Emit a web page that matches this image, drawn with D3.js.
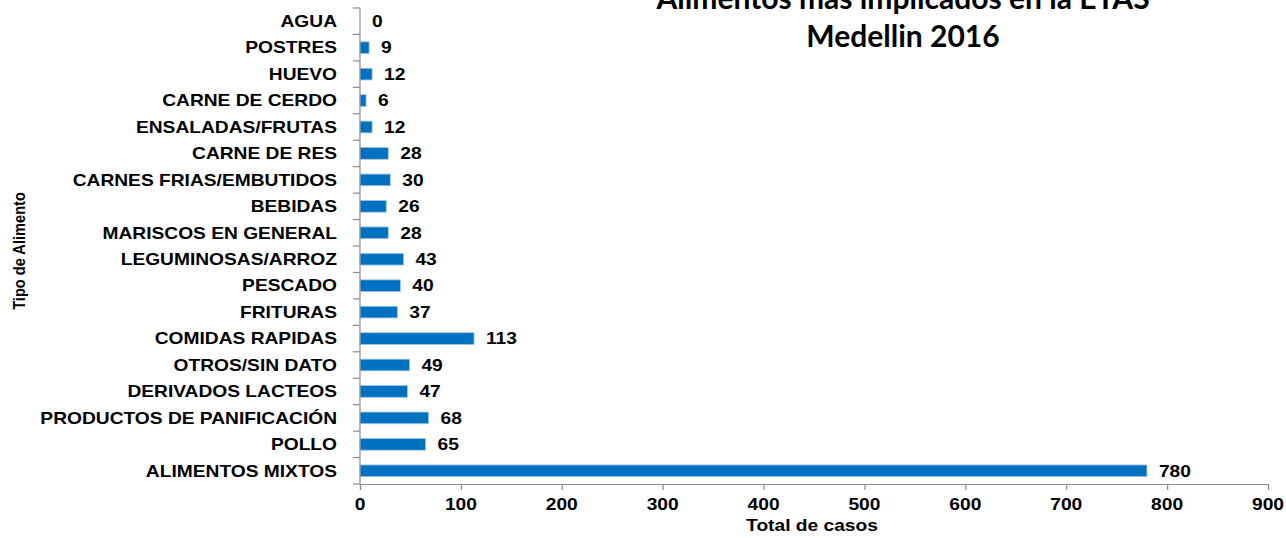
<!DOCTYPE html>
<html lang="es">
<head>
<meta charset="UTF-8">
<title>Alimentos ETAS</title>
<script src="https://d3js.org/d3.v7.min.js"></script>
<style>
  body { margin: 0; background: #fff; }
</style>
</head>
<body>
<script>
    // data, top to bottom as shown
    categories = ["AGUA", "POSTRES", "HUEVO", "CARNE DE CERDO", "ENSALADAS/FRUTAS",
        "CARNE DE RES", "CARNES FRIAS/EMBUTIDOS", "BEBIDAS", "MARISCOS EN GENERAL",
        "LEGUMINOSAS/ARROZ", "PESCADO", "FRITURAS", "COMIDAS RAPIDAS", "OTROS/SIN DATO",
        "DERIVADOS LACTEOS", "PRODUCTOS DE PANIFICACIÓN", "POLLO", "ALIMENTOS MIXTOS"]
    casos = [0, 9, 12, 6, 12, 28, 30, 26, 28, 43, 40, 37, 113, 49, 47, 68, 65, 780]
    xTicks = [0, 100, 200, 300, 400, 500, 600, 700, 800, 900]
    titleLines = ["Alimentos más  implicados en la ETAS", "Medellin 2016"]

    data = categories.map((c, i) => ({name: c, value: casos[i]}))

    w = 1286
    h = 538
    margin = {top: 8, right: 18, bottom: 54, left: 360}
    width = w - margin.left - margin.right
    height = h - margin.top - margin.bottom

    root = d3.select("body").append("svg")
        .attr("width", w)
        .attr("height", h)

    svg = root.append("g")
        .attr("transform", "translate(" + margin.left + "," + margin.top + ")")

    x = d3.scaleLinear().domain([0, 900]).range([0, width])
    y = d3.scaleBand().domain(categories).range([0, height]).paddingInner(0.56).paddingOuter(0.28)

    axisColor = "#8c8c8c"
    bold = "'Liberation Sans', Arial, sans-serif"
    sx = 1.2   // the original text is stretched sideways

    // bold, wide text placed at (px, py)
    function wideText(sel, px, py) {
        sel.attr("transform", (d, i) => "translate(" + px(d, i) + "," + py(d, i) + ") scale(" + sx + ",1)")
            .style("font-family", bold)
            .style("font-weight", "bold")
            .style("font-size", "16px")
    }

    // bars
    svg.selectAll("rect.bar")
        .data(data)
        .enter().append("rect")
        .attr("class", "bar")
        .attr("x", 0)
        .attr("y", (d) => y(d.name))
        .attr("width", (d) => x(d.value))
        .attr("height", y.bandwidth())
        .attr("fill", "#0070c0")
        .attr("stroke", "#9cc3e6")
        .attr("stroke-width", 0.8)

    // value labels
    svg.selectAll("text.val")
        .data(data)
        .enter().append("text")
        .attr("class", "val")
        .attr("dy", "0.36em")
        .text((d) => d.value)
        .call(wideText, (d) => x(d.value) + 12, (d) => y(d.name) + y.bandwidth() / 2)

    // x axis
    xAxis = svg.append("g")
        .attr("transform", "translate(0," + height + ")")
        .call(d3.axisBottom(x).tickValues(xTicks).tickSize(6).tickFormat(""))
    xAxis.selectAll("text.xt")
        .data(xTicks)
        .enter().append("text")
        .attr("class", "xt")
        .attr("text-anchor", "middle")
        .attr("dy", "0.71em")
        .attr("fill", "#000")
        .text((d) => d)
        .call(wideText, (d) => x(d), () => 15)

    // y axis: ticks on band boundaries
    yAxis = svg.append("g")
    yAxis.append("line")
        .attr("x1", 0).attr("x2", 0).attr("y1", 0).attr("y2", height)
    bounds = d3.range(categories.length + 1).map((i) => i * height / categories.length)
    yAxis.selectAll("line.tk")
        .data(bounds)
        .enter().append("line")
        .attr("class", "tk")
        .attr("x1", -7).attr("x2", 0)
        .attr("y1", (d) => d).attr("y2", (d) => d)
    yAxis.selectAll("text")
        .data(data)
        .enter().append("text")
        .attr("dy", "0.36em")
        .attr("text-anchor", "end")
        .text((d) => d.name)
        .call(wideText, () => -23, (d) => y(d.name) + y.bandwidth() / 2)

    svg.selectAll(".domain, .tick line, g line").attr("stroke", axisColor).attr("stroke-width", 1.2)

    // axis titles
    root.append("text")
        .datum("Total de casos")
        .attr("text-anchor", "middle")
        .text((d) => d)
        .call(wideText, () => 812, () => 531)

    // condensed look: squeeze along the text direction
    root.append("text")
        .attr("transform", "translate(25,251) rotate(-90) scale(0.86,1)")
        .attr("text-anchor", "middle")
        .style("font-family", bold)
        .style("font-weight", "bold").style("font-size", "17px")
        .text("Tipo de Alimento")

    // title (partly cut off at the top)
    root.selectAll("text.title")
        .data(titleLines)
        .enter().append("text")
        .attr("class", "title")
        .attr("x", 903)
        .attr("y", (d, i) => 9 + i * 38)
        .attr("text-anchor", "middle")
        .style("font-family", "Lato, 'Open Sans', sans-serif")
        .style("font-weight", "bold")
        .style("font-size", "30px")
        .text((d) => d)
</script>
</body>
</html>
